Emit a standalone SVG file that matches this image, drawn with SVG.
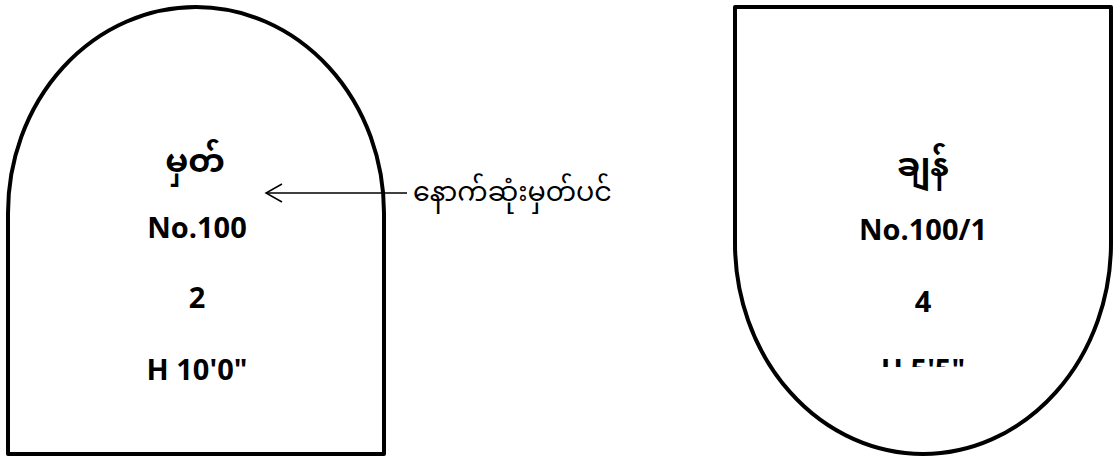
<svg xmlns="http://www.w3.org/2000/svg" width="1116" height="457" viewBox="0 0 1116 457">
<style>
.shape{fill:#fff;stroke:#000;stroke-width:4;stroke-linejoin:round}
.t{font-family:"Noto Sans Myanmar","Noto Sans","Liberation Sans",sans-serif;font-weight:bold;font-size:29px;fill:#000;text-anchor:middle}
.my{font-size:33px}
.lbl{font-family:"Noto Sans Myanmar","Noto Sans","Liberation Sans",sans-serif;font-size:27px;fill:#000}
.conn{stroke:#000;stroke-width:1.5;fill:none}
</style>
<defs>
<clipPath id="clipR"><rect x="700" y="0" width="416" height="367"/></clipPath>
</defs>
<g id="node-left">
<path class="shape" d="M8,454 L8,213 A188,206 0 0 1 384,213 L384,454 Z"/>
<text class="t my" x="195" y="172">မှတ်</text>
<text class="t" x="197" y="238">No.100</text>
<text class="t" x="197" y="308">2</text>
<text class="t" x="197" y="380">H 10'0"</text>
</g>
<g id="node-right">
<path class="shape" d="M735,7 L1111,7 L1111,243 A188,211 0 0 1 735,243 Z"/>
<text class="t my" x="923" y="176">ချန်</text>
<text class="t" x="923" y="240">No.100/1</text>
<text class="t" x="923" y="312">4</text>
<text class="t" x="923" y="380" clip-path="url(#clipR)">H 5'5"</text>
</g>
<g id="connectors">
<line class="conn" x1="266" y1="193" x2="407" y2="193"/>
<polyline class="conn" points="282,184 266,193 282,202"/>
</g>
<g id="label">
<text class="lbl" x="413" y="201">နောက်ဆုံးမှတ်ပင်</text>
</g>
</svg>
